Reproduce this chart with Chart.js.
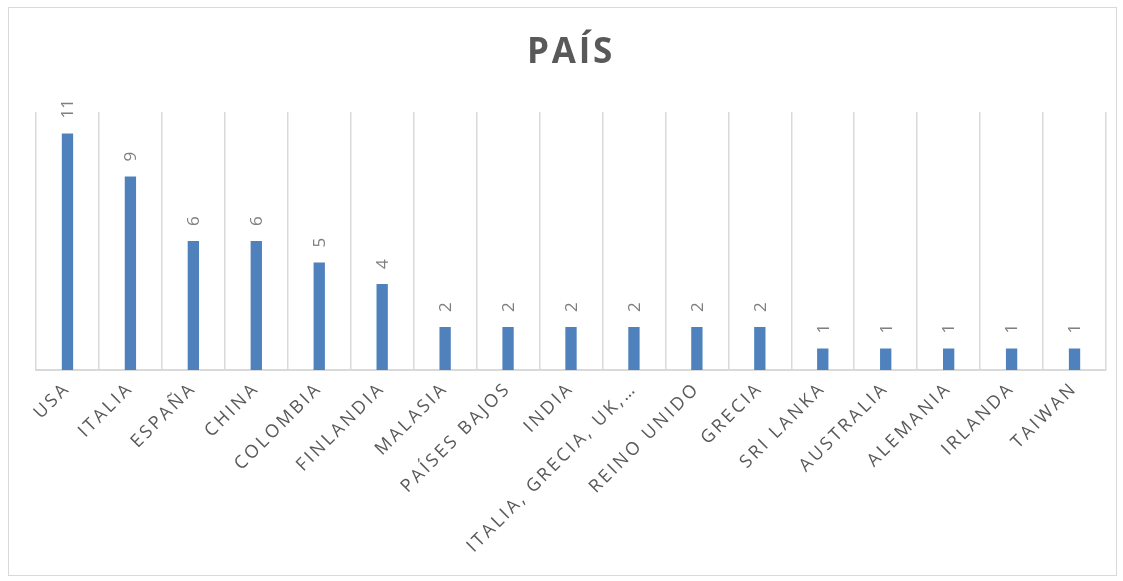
<!DOCTYPE html>
<html>
<head>
<meta charset="utf-8">
<script src="https://cdn.jsdelivr.net/npm/chart.js@4/dist/chart.umd.min.js"></script>
<style>
  html, body { margin: 0; padding: 0; background: #fff; }
  #wrap { position: absolute; left: 8px; top: 7px; width: 1109px; height: 569px; border: 1px solid #d9d9d9; box-sizing: border-box; }
  canvas { display: block; }
</style>
</head>
<body>
<div id="wrap"><canvas id="c"></canvas></div>
<script>
const categories = ["USA", "ITALIA", "ESPAÑA", "CHINA", "COLOMBIA", "FINLANDIA", "MALASIA", "PAÍSES BAJOS", "INDIA", "ITALIA, GRECIA, UK,…", "REINO UNIDO", "GRECIA", "SRI LANKA", "AUSTRALIA", "ALEMANIA", "IRLANDA", "TAIWAN"];
const values = [11, 9, 6, 6, 5, 4, 2, 2, 2, 2, 2, 2, 1, 1, 1, 1, 1];
const titleText = "PAÍS";

const SP = '2.8px';
const spacingPlugin = {
  id: 'spacing',
  beforeUpdate(chart) { chart.ctx.letterSpacing = SP; },
  beforeLayout(chart) { chart.ctx.letterSpacing = SP; },
  beforeDraw(chart) { chart.ctx.letterSpacing = SP; },
  beforeDatasetsDraw(chart) { chart.ctx.letterSpacing = SP; }
};

const labelPlugin = {
  id: 'vlabels',
  afterDatasetsDraw(chart) {
    const ctx = chart.ctx;
    const meta = chart.getDatasetMeta(0);
    ctx.save();
    ctx.letterSpacing = '0px';
    ctx.fillStyle = '#7f7f7f';
    ctx.font = '17px "Open Sans", sans-serif';
    ctx.textAlign = 'left';
    ctx.textBaseline = 'middle';
    meta.data.forEach((el, i) => {
      ctx.save();
      ctx.translate(el.x + 1, el.y - 15);
      ctx.rotate(-Math.PI / 2);
      ctx.fillText(String(values[i]), 0, 0);
      ctx.restore();
    });
    ctx.restore();
  }
};

new Chart(document.getElementById('c'), {
  type: 'bar',
  data: {
    labels: categories,
    datasets: [{
      data: values,
      backgroundColor: '#4F81BD',
      categoryPercentage: 1,
      barPercentage: 0.18
    }]
  },
  plugins: [spacingPlugin, labelPlugin],
  options: {
    responsive: true,
    maintainAspectRatio: false,
    animation: false,
    layout: { padding: { left: 27, right: 10, top: 0, bottom: 10 } },
    plugins: {
      legend: { display: false },
      tooltip: { enabled: false },
      title: {
        display: true,
        text: titleText,
        color: '#595959',
        font: { family: '"Open Sans", sans-serif', size: 35, weight: 'bold' },
        padding: { top: 24, bottom: 38 }
      }
    },
    scales: {
      x: {
        grid: { color: '#d9d9d9', lineWidth: 1.5, drawTicks: false, offset: true },
        border: { color: '#d9d9d9', width: 2 },
        ticks: {
          color: '#595959',
          font: { family: '"Open Sans", sans-serif', size: 18 },
          maxRotation: 45,
          minRotation: 45,
          autoSkip: false,
          padding: 8
        }
      },
      y: {
        display: false,
        min: 0,
        max: 12
      }
    }
  }
});
</script>
</body>
</html>
